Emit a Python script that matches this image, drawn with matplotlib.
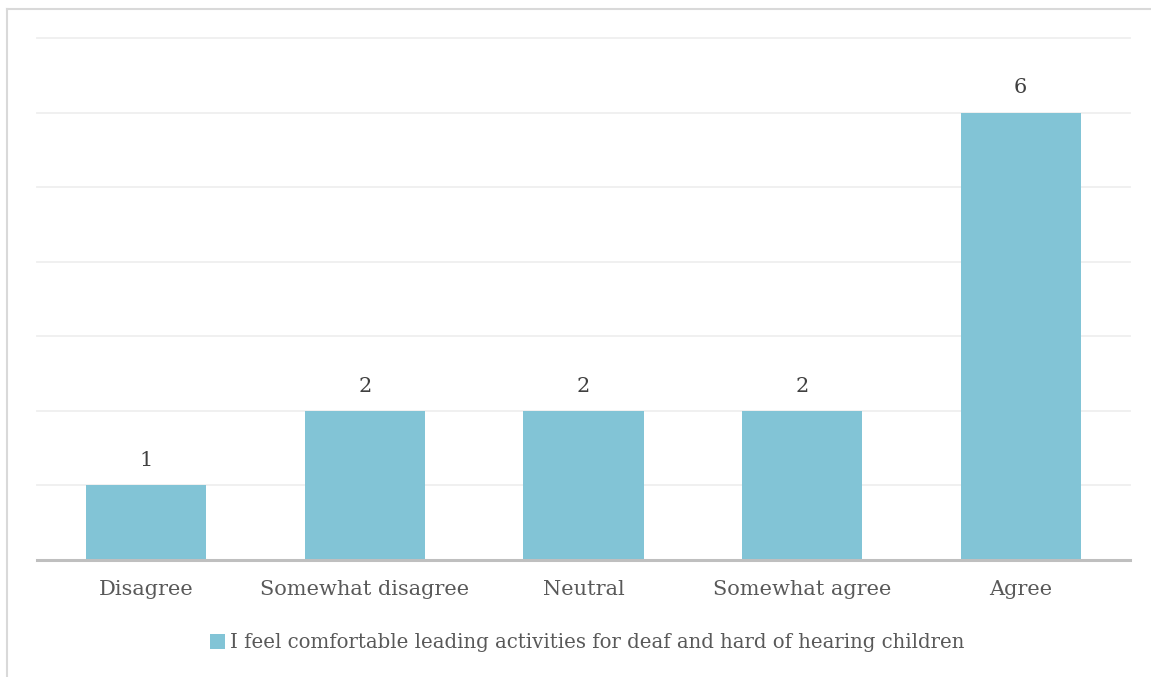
import matplotlib
matplotlib.use("Agg")
import matplotlib.pyplot as plt
from matplotlib.lines import Line2D
from matplotlib.patches import Patch

categories = ["Disagree", "Somewhat disagree", "Neutral", "Somewhat agree", "Agree"]
values = [1, 2, 2, 2, 6]
series_name = "I feel comfortable leading activities for deaf and hard of hearing children"

bar_color = "#82C4D6"
text_color = "#595959"
plt.rcParams['font.family'] = ['DejaVu Serif']

W, H = 1151, 677
fig = plt.figure(figsize=(W / 100, H / 100), dpi=100)
ax = fig.add_axes([37 / W, 1 - 560 / H, (1130 - 37) / W, (560 - 38) / H])

x = list(range(len(categories)))
bars = ax.bar(x, values, width=0.55, color=bar_color, zorder=2)
ax.set_xlim(-0.5, len(categories) - 0.5)
ax.set_ylim(0, 7)
ax.set_yticks(range(0, 8))
ax.yaxis.grid(True, color="#EFEFEF", linewidth=1.3, zorder=0)
for gl in ax.get_ygridlines():
    gl.set_clip_on(False)
ax.tick_params(axis='y', left=False, labelleft=False)
ax.tick_params(axis='x', bottom=False, labelsize=15, colors=text_color, pad=11)
ax.set_xticks(x)
ax.set_xticklabels(categories)
for s in ["top", "right", "left"]:
    ax.spines[s].set_visible(False)
ax.spines["bottom"].set_color("#BFBFBF")
ax.spines["bottom"].set_linewidth(2.2)
ax.spines["bottom"].set_zorder(3)

for b, v in zip(bars, values):
    ax.annotate(str(v), (b.get_x() + b.get_width() / 2, v), xytext=(0, 11),
                textcoords="offset points", ha="center", va="bottom",
                fontsize=15, color="#404040")

handle = Patch(facecolor=bar_color, edgecolor="none")
fig.legend([handle], [series_name], loc="center", bbox_to_anchor=(587 / W, 1 - 643 / H),
           frameon=False, fontsize=14.2, labelcolor=text_color, handlelength=0.75,
           handleheight=0.75, handletextpad=0.25)

fig.add_artist(Line2D([7 / W, 1], [1 - 9 / H, 1 - 9 / H], color="#D9D9D9", linewidth=1.5,
                      transform=fig.transFigure))
fig.add_artist(Line2D([7 / W, 7 / W], [0, 1 - 9 / H], color="#D9D9D9", linewidth=1.5,
                      transform=fig.transFigure))

fig.savefig("out.png", dpi=100, facecolor="white")
